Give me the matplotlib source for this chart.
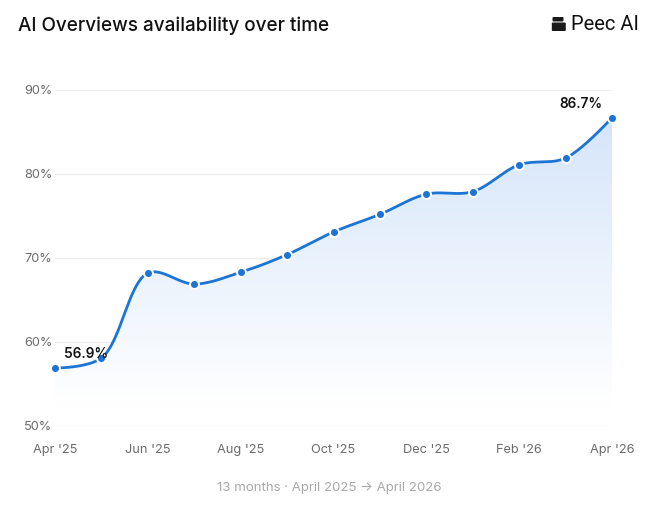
import numpy as np
import matplotlib
matplotlib.use("Agg")
import matplotlib.pyplot as plt
from matplotlib.patches import FancyBboxPatch
from matplotlib.colors import LinearSegmentedColormap

months = ["Apr '25", "May '25", "Jun '25", "Jul '25", "Aug '25", "Sep '25", "Oct '25",
          "Nov '25", "Dec '25", "Jan '26", "Feb '26", "Mar '26", "Apr '26"]
values = [56.9, 58.1, 68.2, 66.9, 68.3, 70.4, 73.1, 75.2, 77.6, 77.9, 81.1, 81.9, 86.7]
yticks = [50, 60, 70, 80, 90]
xtick_idx = [0, 2, 4, 6, 8, 10, 12]

plt.rcParams['font.family'] = ['Inter', 'DejaVu Sans']

W, H = 661, 507
fig = plt.figure(figsize=(W / 100, H / 100), dpi=100)
fig.patch.set_facecolor('white')

AX_L, AX_R, AX_B, AX_T = 55, 612, 426, 90
ax = fig.add_axes([AX_L / W, 1 - AX_B / H, (AX_R - AX_L) / W, (AX_B - AX_T) / H])
XMIN, XMAX, YMIN, YMAX = 0, 12, 50, 90
ax.set_xlim(XMIN, XMAX)
ax.set_ylim(YMIN, YMAX)
for s in ax.spines.values():
    s.set_visible(False)

x = np.arange(len(values)).astype(float)
y = np.array(values, dtype=float)

# centripetal Catmull-Rom (alpha=0.5), as in d3.curveCatmullRom, computed in pixel-like space
sxk = (AX_R - AX_L) / (XMAX - XMIN)
syk = (AX_B - AX_T) / (YMAX - YMIN)

def catmull_rom_d3(px, py, alpha=0.5, n=40):
    pts = np.column_stack([px, py])
    N = len(pts)
    outx, outy = [pts[0, 0]], [pts[0, 1]]
    for i in range(N - 1):
        p1, p2 = pts[i], pts[i + 1]
        c1 = p1.copy()
        c2 = p2.copy()
        l12 = np.linalg.norm(p2 - p1)
        l12_a, l12_2a = l12 ** alpha, l12 ** (2 * alpha)
        if i > 0:
            p0 = pts[i - 1]
            l01 = np.linalg.norm(p1 - p0)
            l01_a, l01_2a = l01 ** alpha, l01 ** (2 * alpha)
            a = 2 * l01_2a + 3 * l01_a * l12_a + l12_2a
            nn = 3 * l01_a * (l01_a + l12_a)
            c1 = (p1 * a - p0 * l12_2a + p2 * l01_2a) / nn
        if i < N - 2:
            p3 = pts[i + 2]
            l23 = np.linalg.norm(p3 - p2)
            l23_a, l23_2a = l23 ** alpha, l23 ** (2 * alpha)
            b = 2 * l23_2a + 3 * l23_a * l12_a + l12_2a
            m = 3 * l23_a * (l23_a + l12_a)
            c2 = (p2 * b + p1 * l23_2a - p3 * l12_2a) / m
        t = np.linspace(0, 1, n)[1:, None]
        seg = ((1 - t) ** 3) * p1 + 3 * ((1 - t) ** 2) * t * c1 + 3 * (1 - t) * t ** 2 * c2 + t ** 3 * p2
        outx.extend(seg[:, 0]); outy.extend(seg[:, 1])
    return np.array(outx), np.array(outy)

cx, cy = catmull_rom_d3(x * sxk, y * syk)
sx, sy = cx / sxk, cy / syk

# grid
for v in yticks:
    ax.axhline(v, color='#ececec', lw=0.9, zorder=0)

# gradient fill under curve
poly = ax.fill_between(sx, sy, YMIN, color='none', lw=0)
cmap = LinearSegmentedColormap.from_list('g', ['#ffffff', '#d5e5fa'])
grad = np.linspace(0, 1, 256).reshape(-1, 1)
im = ax.imshow(grad, extent=[XMIN, XMAX, 52, 87], origin='lower', aspect='auto', cmap=cmap,
               vmin=0, vmax=1, zorder=1)
im.set_clip_path(poly.get_paths()[0], transform=ax.transData)
ax.set_xlim(XMIN, XMAX)
ax.set_ylim(YMIN, YMAX)

ax.plot(sx, sy, color='#1b74d6', lw=2.0, zorder=3, clip_on=False, solid_capstyle='round')
ax.scatter(x, y, s=42, color='#1b74d6', edgecolor='white', linewidth=1.4, zorder=4, clip_on=False)

ax.annotate(f"{values[0]:.1f}%", (x[0], y[0]), xytext=(6.5, 10), textcoords='offset points',
            fontsize=9.8, fontweight='semibold', color='#111111', va='center', ha='left', zorder=5)
ax.annotate(f"{values[-1]:.1f}%", (x[-1], y[-1]), xytext=(-6.5, 10), textcoords='offset points',
            fontsize=9.8, fontweight='semibold', color='#111111', va='center', ha='right', zorder=5)

ax.set_yticks(yticks)
ax.set_yticklabels([f"{v}%" for v in yticks])
ax.set_xticks(xtick_idx)
ax.set_xticklabels([months[i] for i in xtick_idx])
ax.tick_params(axis='both', length=0, labelsize=9.2, colors='#6b6b6b')
ax.tick_params(axis='x', pad=13)
ax.tick_params(axis='y', pad=2)

# title
fig.text(18 / W, 1 - 26 / H, "AI Overviews availability over time", fontsize=13.6,
         fontweight='medium', color='#111111', va='center', ha='left')

# logo
logo = fig.add_axes([551 / W, 1 - 32 / H, 15 / W, 17 / H])
logo.set_xlim(0, 15); logo.set_ylim(0, 17); logo.axis('off')
logo.add_patch(FancyBboxPatch((1.5, 10.5), 11.0, 4.5, boxstyle='round,pad=0,rounding_size=1',
                              fc='#1a1a1a', ec='none'))
logo.add_patch(FancyBboxPatch((0.8, 1.0), 14.0, 8.5, boxstyle='round,pad=0,rounding_size=1',
                              fc='#1a1a1a', ec='none'))
fig.text(571 / W, 1 - 25 / H, "Peec AI", fontsize=14.5, color='#111111', va='center', ha='left',
         family=['Roboto', 'DejaVu Sans'])

# footer
fig.text(329 / W, 1 - 488 / H, "13 months \u00b7 April 2025 \u2192 April 2026", fontsize=9.5,
         color='#a8a8a8', ha='center', va='center')

fig.savefig('out.png', dpi=100, facecolor='white')
